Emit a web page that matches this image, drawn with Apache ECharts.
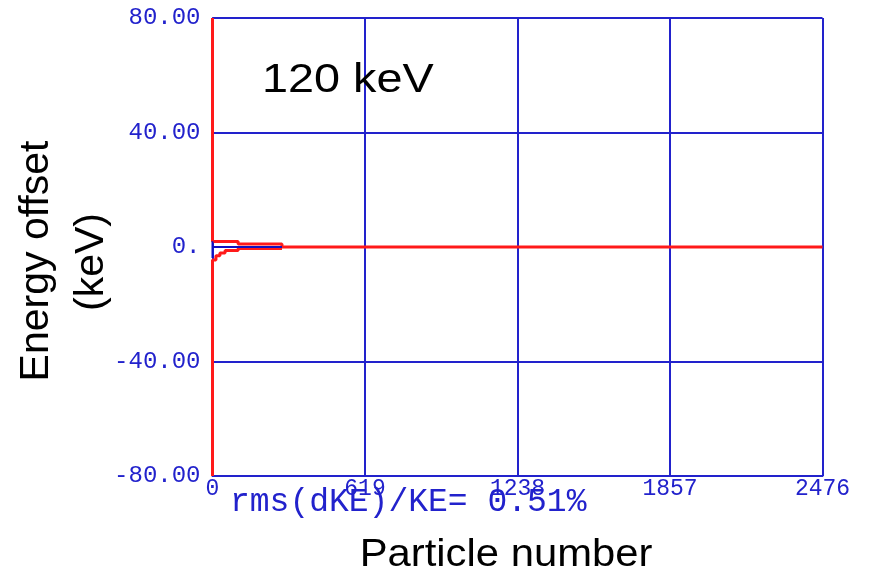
<!DOCTYPE html>
<html>
<head>
<meta charset="utf-8">
<script src="https://cdn.jsdelivr.net/npm/echarts@6/dist/echarts.min.js"></script>
<style>
html,body{margin:0;padding:0;background:#fff;}
#chart{width:869px;height:579px;}
</style>
</head>
<body>
<div id="chart"></div>
<script>
// ---- data ----
const particleTicks = [0, 619, 1238, 1857, 2476];
const energyTicks = [-80, -40, 0, 40, 80];
// red envelope (upper and lower outline of the sorted energy offsets)
const redUpperX = [0, 0, 104, 104, 282, 282, 2476];
const redUpperY = [80, 1.9, 1.9, 1.05, 1.05, 0, 0];
const redLowerX = [0, 0, 14, 14, 30, 30, 51, 51, 104, 104, 282];
const redLowerY = [-80, -4.5, -4.5, -3.1, -3.1, -2.1, -2.1, -1.2, -1.2, -0.5, -0.5];
// blue trace
const blueX = [0, 0, 0, 282];
const blueY = [2.0, -3.8, 0, 0];
const titleText = '120 keV';
const yTitle1 = 'Energy offset';
const yTitle2 = '(keV)';
const xTitle = 'Particle number';
const rmsText = 'rms(dKE)/KE= 0.51%';

const BLUE = '#2222cc';
const RED = '#ff1a1a';
const zip = (xs, ys) => xs.map((x, i) => [x, ys[i]]);

const chart = echarts.init(document.getElementById('chart'));
chart.setOption({
  animation: false,
  backgroundColor: '#fff',
  grid: { left: 212.5, right: 46.5, top: 18, bottom: 103, containLabel: false },
  xAxis: {
    type: 'value', min: particleTicks[0], max: particleTicks[particleTicks.length - 1],
    interval: particleTicks[1] - particleTicks[0],
    axisLine: { show: true, onZero: false, lineStyle: { color: BLUE, width: 2 } },
    axisTick: { show: false },
    splitLine: { show: true, lineStyle: { color: BLUE, width: 2 } },
    axisLabel: { color: BLUE, fontFamily: 'Liberation Mono', fontSize: 23, margin: 1,
      showMinLabel: true, showMaxLabel: true, hideOverlap: false,
      formatter: v => String(v) }
  },
  yAxis: {
    type: 'value', min: energyTicks[0], max: energyTicks[energyTicks.length - 1],
    interval: energyTicks[1] - energyTicks[0],
    axisLine: { show: true, lineStyle: { color: BLUE, width: 2 } },
    axisTick: { show: false },
    splitLine: { show: true, lineStyle: { color: BLUE, width: 2 } },
    axisLabel: { color: BLUE, fontFamily: 'Liberation Mono', fontSize: 24, margin: 12,
      formatter: v => (v === 0 ? '0.' : v.toFixed(2)) }
  },
  series: [
    { type: 'line', data: zip(redUpperX, redUpperY), showSymbol: false, symbol: 'none',
      lineStyle: { color: RED, width: 3 }, z: 3 },
    { type: 'line', data: zip(redLowerX, redLowerY), showSymbol: false, symbol: 'none',
      lineStyle: { color: RED, width: 3 }, z: 3 },
    { type: 'line', data: zip(blueX, blueY), showSymbol: false, symbol: 'none',
      lineStyle: { color: '#1010c0', width: 2 }, z: 4 }
  ],
  graphic: [
    { type: 'text', x: 262, y: 61, scaleX: 1.17, z: 10,
      style: { text: titleText, font: '40px "Liberation Sans"', fill: '#000' } },
    { type: 'text', x: 37, y: 261, rotation: Math.PI / 2, z: 10,
      style: { text: yTitle1, font: '41px "Liberation Sans"', fill: '#000', align: 'center', verticalAlign: 'middle' } },
    { type: 'text', x: 92, y: 262, rotation: Math.PI / 2, z: 10,
      style: { text: yTitle2, font: '41px "Liberation Sans"', fill: '#000', align: 'center', verticalAlign: 'middle' } },
    { type: 'text', x: 506, y: 556, scaleX: 1.1, z: 10,
      style: { text: xTitle, font: '38px "Liberation Sans"', fill: '#000', align: 'center', verticalAlign: 'middle' } },
    { type: 'text', x: 230, y: 486, z: 10,
      style: { text: rmsText, font: '33px "Liberation Mono"', fill: BLUE } }
  ]
});
</script>
</body>
</html>
